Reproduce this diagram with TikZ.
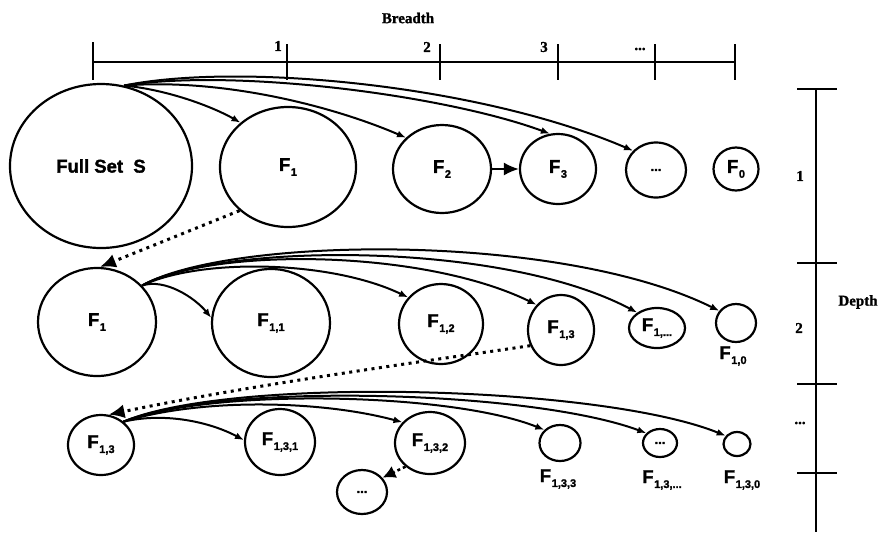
\documentclass[tikz,border=0pt]{standalone}
\usepackage{fontspec}
\setmainfont[BoldFeatures={FakeBold=1.2}]{Liberation Serif}
\setsansfont[BoldFeatures={FakeBold=1.6}]{Liberation Sans}
\usetikzlibrary{shapes.geometric,arrows.meta}
\newcommand{\Fsub}[1]{F\kern0.6pt\raisebox{-0.5ex}{\fontsize{11}{11}\selectfont #1}}
\newcommand{\dotstext}{{\fontsize{13}{13}\selectfont ...}}
\begin{document}
\begin{tikzpicture}[x=1pt,y=-1pt,
  set/.style={ellipse,draw,line width=2.2pt,inner sep=0pt,font=\fontsize{18.5}{18.5}\sffamily\bfseries},
  lbl/.style={inner sep=0pt,font=\fontsize{18.5}{18.5}\sffamily\bfseries},
  axlbl/.style={inner sep=0pt,font=\fontsize{15}{15}\rmfamily\bfseries},
  axis/.style={line width=2pt},
  fan/.style={line width=2pt,-{Latex[length=9pt,width=7pt]}},
  big/.style={line width=2pt,-{Latex[length=15pt,width=13pt]}},
  dotarrow/.style={line width=3pt,dash pattern=on 3pt off 4.5pt,-{Latex[length=16pt,width=14pt]}},
  smalldot/.style={line width=2.5pt,dash pattern=on 3pt off 3pt,-{Latex[length=13pt,width=13pt]}}]
\useasboundingbox (0,0) rectangle (890,539);
% Breadth axis
\draw[axis] (93,62) -- (735,62);
\foreach \x/\t in {93/42,287/44,440/44,558/44,655/44,735/44}{\draw[axis] (\x,\t) -- (\x,80);}
\node[axlbl] (breadth) at (408,18) {Breadth};
\node[axlbl] (b1) at (278,46) {1};
\node[axlbl] (b2) at (427,47) {2};
\node[axlbl] (b3) at (544,47) {3};
\node[axlbl] (b4) at (640,49) {...};
% Depth axis
\draw[axis] (816,89) -- (816,532);
\foreach \y in {89,263,384,473}{\draw[axis] (797,\y) -- (837,\y);}
\node[axlbl] (depth) at (858,302) {Depth};
\node[axlbl] (d1) at (800,176) {1};
\node[axlbl] (d2) at (799,328) {2};
\node[axlbl] (d3) at (800,423) {...};
% Row 1
\node[set,minimum width=182pt,minimum height=164pt] (S) at (101,166) {Full Set\ \ S};
\node[set,minimum width=136pt,minimum height=120pt] (A1) at (288,167) {\Fsub{1}};
\node[set,minimum width=98pt,minimum height=88pt] (A2) at (442,169) {\Fsub{2}};
\node[set,minimum width=76pt,minimum height=70pt] (A3) at (558,169) {\Fsub{3}};
\node[set,minimum width=60pt,minimum height=55pt] (A4) at (656,170) {\dotstext};
\node[set,minimum width=45pt,minimum height=43pt] (A0) at (736,169) {\Fsub{0}};
% Row 2
\node[set,minimum width=118pt,minimum height=108pt] (B) at (97,322) {\Fsub{1}};
\node[set,minimum width=118pt,minimum height=108pt] (B1) at (271,323) {\Fsub{1,1}};
\node[set,minimum width=84pt,minimum height=80pt] (B2) at (441,324) {\Fsub{1,2}};
\node[set,minimum width=66pt,minimum height=70pt] (B3) at (561,330) {\Fsub{1,3}};
\node[set,minimum width=56pt,minimum height=40pt] (B4) at (657,328) {\Fsub{1,...}};
\node[set,minimum width=40pt,minimum height=38pt] (B0) at (736,323) {};
\node[lbl] (B0l) at (733,356) {\Fsub{1,0}};
% Row 3
\node[set,minimum width=66pt,minimum height=60pt] (C) at (101,445) {\Fsub{1,3}};
\node[set,minimum width=70pt,minimum height=66pt] (C1) at (280,442) {\Fsub{1,3,1}};
\node[set,minimum width=70pt,minimum height=62pt] (C2) at (430,443) {\Fsub{1,3,2}};
\node[set,minimum width=50pt,minimum height=44pt] (Cd) at (362,492) {\dotstext};
\node[set,minimum width=41pt,minimum height=36pt] (C3) at (560,443) {};
\node[lbl] (C3l) at (558,479) {\Fsub{1,3,3}};
\node[set,minimum width=34pt,minimum height=28pt] (C4) at (660,443) {\dotstext};
\node[lbl] (C4l) at (662,480) {\Fsub{1,3,...}};
\node[set,minimum width=27pt,minimum height=24pt] (C0) at (737,444) {};
\node[lbl] (C0l) at (742,480) {\Fsub{1,3,0}};
% Row 1 connectors
\draw[fan] (S.74) .. controls (170,90) and (215,108) .. (A1.137);
\draw[fan] (S.74) .. controls (220,78) and (330,105) .. (A2.139);
\draw[fan] (S.74) .. controls (235,68) and (445,95) .. (A3.103);
\draw[fan] (S.74) .. controls (240,62) and (480,85) .. (A4.140);
\draw[big] (A2.east) -- (A3.west);
\draw[dotarrow] (A1.222) -- (B.87);
% Row 2 connectors
\draw[fan] (B.39) .. controls (165,278) and (195,298) .. (B1.175);
\draw[fan] (B.39) .. controls (200,258) and (330,260) .. (B2.141);
\draw[fan] (B.39) .. controls (210,248) and (420,248) .. (B3.134);
\draw[fan] (B.39) .. controls (220,243) and (500,240) .. (B4.142);
\draw[fan] (B.39) .. controls (230,236) and (560,232) .. (B0.144);
\draw[dotarrow] (B3.207) .. controls (420,362) and (250,385) .. (C.76);
% Row 3 connectors
\draw[fan] (C.46) .. controls (165,412) and (210,422) .. (C1.177);
\draw[fan] (C.46) .. controls (200,398) and (320,400) .. (C2.143);
\draw[fan] (C.46) .. controls (210,388) and (450,392) .. (C3.140);
\draw[fan] (C.46) .. controls (220,382) and (530,390) .. (C4.144);
\draw[fan] (C.46) .. controls (230,376) and (600,385) .. (C0.144);
\draw[smalldot] (C2.224) -- (Cd.35);
\end{tikzpicture}
\end{document}
